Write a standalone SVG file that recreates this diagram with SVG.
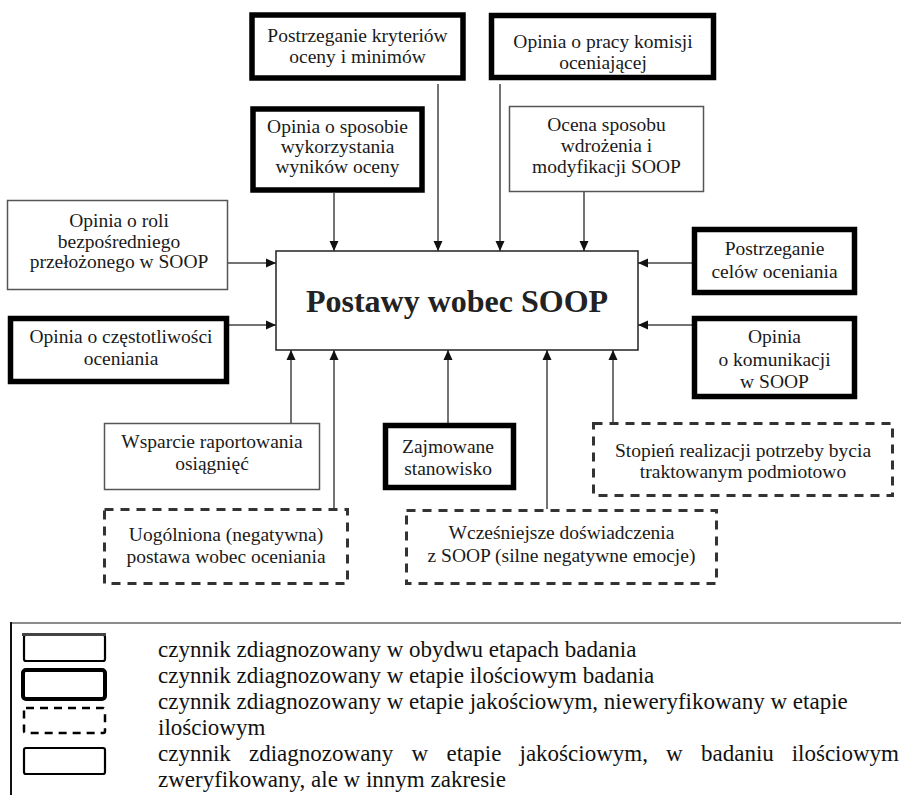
<svg xmlns="http://www.w3.org/2000/svg" width="901" height="795" viewBox="0 0 901 795">
<style>
  .t { font-family: "Liberation Serif", "Times New Roman", serif; font-size: 19.5px; fill: #1a1a1a; text-anchor: middle; }
  .lg { font-family: "Liberation Serif", "Times New Roman", serif; font-size: 23px; fill: #111; }
  .title { font-family: "Liberation Serif", "Times New Roman", serif; font-size: 32px; font-weight: bold; fill: #222; text-anchor: middle; }
  .thin { fill: #fff; stroke: #555; stroke-width: 1.5; }
  .thick { fill: #fff; stroke: #000; stroke-width: 5.5; }
  .dash { fill: none; stroke: #333; stroke-width: 3; stroke-dasharray: 9 7; }
  .con { fill: none; stroke: #444; stroke-width: 1.5; marker-end: url(#ah); }
</style>
<defs>
  <marker id="ah" viewBox="0 0 10 10" refX="10" refY="5" markerWidth="10" markerHeight="10" markerUnits="userSpaceOnUse" orient="auto">
    <path d="M0,0.5 L10,5 L0,9.5 z" fill="#111"/>
  </marker>
</defs>
<rect width="901" height="795" fill="#fff"/>

<g id="connectors">
  <path class="con" d="M334,193 V251"/>
  <path class="con" d="M438,84 V251"/>
  <path class="con" d="M500,84 V251"/>
  <path class="con" d="M584,192 V251"/>
  <path class="con" d="M228,263 H276"/>
  <path class="con" d="M229,325 H276"/>
  <path class="con" d="M692,263 H638"/>
  <path class="con" d="M692,325 H638"/>
  <path class="con" d="M291,423 V350"/>
  <path class="con" d="M334,508 V350"/>
  <path class="con" d="M448,423 V350"/>
  <path class="con" d="M547,509 V350"/>
  <path class="con" d="M613,422 V350"/>
</g>

<g id="center">
  <rect x="276" y="251" width="362" height="99" fill="#fff" stroke="#222" stroke-width="1.5"/>
  <text class="title" x="457" y="312">Postawy wobec SOOP</text>
</g>

<g id="n-kryteria">
  <rect class="thick" x="252" y="15" width="211" height="63" stroke-width="6"/>
  <text class="t" x="357.5" y="42">Postrzeganie kryteriów</text>
  <text class="t" x="357.5" y="63">oceny i minimów</text>
</g>
<g id="n-komisja">
  <rect class="thick" x="491.5" y="15.5" width="222" height="62" stroke-width="7"/>
  <text class="t" x="603" y="48">Opinia o pracy komisji</text>
  <text class="t" x="603" y="69">oceniającej</text>
</g>
<g id="n-wyniki">
  <rect class="thick" x="253" y="109" width="169" height="81"/>
  <text class="t" x="337.5" y="133">Opinia o sposobie</text>
  <text class="t" x="337.5" y="153">wykorzystania</text>
  <text class="t" x="337.5" y="173">wyników oceny</text>
</g>
<g id="n-wdrozenie">
  <rect class="thin" x="509.5" y="106.5" width="194" height="85"/>
  <text class="t" x="606.5" y="131">Ocena sposobu</text>
  <text class="t" x="606.5" y="152">wdrożenia i</text>
  <text class="t" x="606.5" y="173">modyfikacji SOOP</text>
</g>
<g id="n-przelozony">
  <rect class="thin" x="7.5" y="200.5" width="220" height="89"/>
  <text class="t" x="119" y="227">Opinia o roli</text>
  <text class="t" x="119" y="248">bezpośredniego</text>
  <text class="t" x="119" y="268">przełożonego w SOOP</text>
</g>
<g id="n-czestotliwosc">
  <rect class="thick" x="10.5" y="318.5" width="216" height="63"/>
  <text class="t" x="121" y="343">Opinia o częstotliwości</text>
  <text class="t" x="121" y="365">oceniania</text>
</g>
<g id="n-cele">
  <rect class="thick" x="694.5" y="229.5" width="160" height="63"/>
  <text class="t" x="774.5" y="255">Postrzeganie</text>
  <text class="t" x="774.5" y="278">celów oceniania</text>
</g>
<g id="n-komunikacja">
  <rect class="thick" x="694.5" y="318.5" width="160" height="78"/>
  <text class="t" x="774.5" y="343">Opinia</text>
  <text class="t" x="774.5" y="366">o komunikacji</text>
  <text class="t" x="774.5" y="388">w SOOP</text>
</g>
<g id="n-raportowanie">
  <rect class="thin" x="104.5" y="423.5" width="215" height="66"/>
  <text class="t" x="212" y="448">Wsparcie raportowania</text>
  <text class="t" x="212" y="470">osiągnięć</text>
</g>
<g id="n-stanowisko">
  <rect class="thick" x="385.5" y="425.5" width="128" height="62"/>
  <text class="t" x="448" y="453">Zajmowane</text>
  <text class="t" x="448" y="475">stanowisko</text>
</g>
<g id="n-uogolniona">
  <rect class="dash" x="104.5" y="509.5" width="243" height="74"/>
  <text class="t" x="226" y="541">Uogólniona (negatywna)</text>
  <text class="t" x="226" y="563">postawa wobec oceniania</text>
</g>
<g id="n-wczesniejsze">
  <rect class="dash" x="406.5" y="510.5" width="310" height="73"/>
  <text class="t" x="561.5" y="539">Wcześniejsze doświadczenia</text>
  <text class="t" x="561.5" y="562">z SOOP (silne negatywne emocje)</text>
</g>
<g id="n-podmiotowo">
  <rect class="dash" x="593.5" y="423.5" width="299" height="72"/>
  <text class="t" x="743" y="457">Stopień realizacji potrzeby bycia</text>
  <text class="t" x="743" y="478">traktowanym podmiotowo</text>
</g>

<g id="legend">
  <path d="M11,623 H901" stroke="#666" stroke-width="1.5" fill="none"/>
  <path d="M11,622 V795" stroke="#111" stroke-width="2" fill="none"/>
  <rect x="24" y="635" width="81" height="26" rx="2" fill="#fff" stroke="#000" stroke-width="2.2"/>
  <path d="M22,634.5 H106" stroke="#444" stroke-width="3"/>
  <rect x="23" y="670" width="82" height="29" rx="3" fill="#fff" stroke="#000" stroke-width="4"/>
  <rect x="24" y="708" width="81" height="25" rx="2" fill="none" stroke="#000" stroke-width="2.5" stroke-dasharray="8 6"/>
  <rect x="24" y="748" width="81" height="26" rx="2" fill="#fff" stroke="#000" stroke-width="2.2"/>
  <text class="lg" x="158" y="657">czynnik zdiagnozowany w obydwu etapach badania</text>
  <text class="lg" x="158" y="683">czynnik zdiagnozowany w etapie ilościowym badania</text>
  <text class="lg" x="158" y="709">czynnik zdiagnozowany w etapie jakościowym, nieweryfikowany w etapie</text>
  <text class="lg" x="158" y="735">ilościowym</text>
  <text class="lg" y="761"><tspan x="158">czynnik</tspan><tspan x="249">zdiagnozowany</tspan><tspan x="411.5">w</tspan><tspan x="446.5">etapie</tspan><tspan x="519.5">jakościowym,</tspan><tspan x="666">w</tspan><tspan x="701">badaniu</tspan></text>
  <text class="lg" x="899" y="761" text-anchor="end">ilościowym</text>
  <text class="lg" x="158" y="787">zweryfikowany, ale w innym zakresie</text>
</g>
</svg>
